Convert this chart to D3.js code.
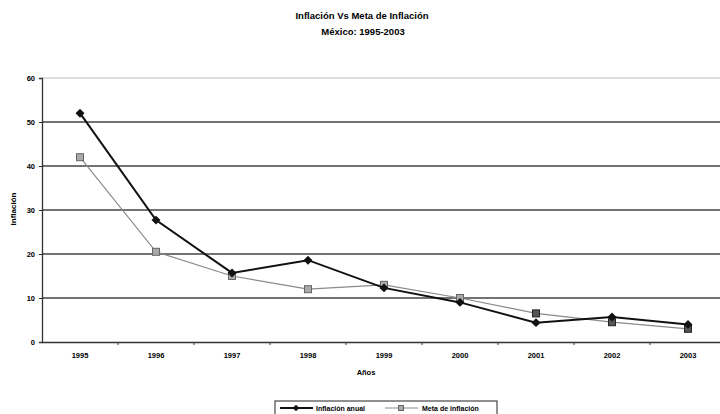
<!DOCTYPE html>
<html>
<head>
<meta charset="utf-8">
<script src="https://cdn.jsdelivr.net/npm/d3@7"></script>
<style>
  html, body { margin: 0; padding: 0; background: #fff; }
  svg { display: block; font-family: "Liberation Sans", Arial, sans-serif; }
</style>
</head>
<body>
<div id="chart"></div>
<script>
// Annual inflation in Mexico versus the central bank's inflation target
const years = ["1995", "1996", "1997", "1998", "1999", "2000", "2001", "2002", "2003"];
const inflacionAnual = [52.0, 27.7, 15.7, 18.6, 12.3, 9.0, 4.4, 5.7, 4.0];
const metaInflacion = [42.0, 20.5, 15.0, 12.0, 13.0, 10.0, 6.5, 4.5, 3.0];
const yTicks = [0, 10, 20, 30, 40, 50, 60];

const W = 720, H = 414;
const FONT = "Liberation Sans, Arial, sans-serif";
const svg = d3.select("#chart").append("svg").attr("width", W).attr("height", H);

const x = d3.scaleBand().domain(years).range([42, 726]);
const y = d3.scaleLinear().domain([0, 60]).range([342, 78]);
const cx = d => x(d) + x.bandwidth() / 2;

// Titles
svg.append("text").attr("x", 362).attr("y", 19).attr("text-anchor", "middle")
  .attr("font-size", 9.5).attr("font-weight", "bold").attr("fill", "#000")
  .text("Inflación Vs Meta de Inflación");
svg.append("text").attr("x", 363).attr("y", 35).attr("text-anchor", "middle")
  .attr("font-size", 9.5).attr("font-weight", "bold").attr("fill", "#000")
  .text("México: 1995-2003");

// Horizontal gridlines
svg.append("g").selectAll("line").data(yTicks.filter(t => t > 0)).join("line")
  .attr("x1", 42).attr("x2", W)
  .attr("y1", d => y(d)).attr("y2", d => y(d))
  .attr("stroke", d => d === 60 ? "#bbb" : "#444")
  .attr("stroke-width", d => d === 60 ? 1 : 1.3);

// Y axis
const yAxis = d3.axisLeft(y).tickValues(yTicks).tickSize(3).tickPadding(4);
const gy = svg.append("g").attr("transform", "translate(42,0)").call(yAxis);
gy.select(".domain").attr("stroke", "#333").attr("stroke-width", 1.3);
gy.selectAll(".tick line").attr("stroke", "#333");
gy.selectAll(".tick text").attr("font-size", 7.5).attr("font-weight", "bold")
  .attr("fill", "#000").attr("font-family", FONT);

// X axis with ticks on category boundaries
const xAxis = d3.axisBottom(x).tickSize(0).tickPadding(11);
const gx = svg.append("g").attr("transform", "translate(0,342)").call(xAxis);
gx.select(".domain").attr("stroke", "#333").attr("stroke-width", 1.3);
gx.selectAll(".tick text").attr("font-size", 7.5).attr("font-weight", "bold")
  .attr("fill", "#000").attr("font-family", FONT);
gx.append("g").selectAll("line").data(years.slice(1)).join("line")
  .attr("x1", d => x(d)).attr("x2", d => x(d))
  .attr("y1", 0).attr("y2", 3).attr("stroke", "#333");

// Axis titles
svg.append("text").attr("x", 366).attr("y", 375).attr("text-anchor", "middle")
  .attr("font-size", 7.5).attr("font-weight", "bold").attr("fill", "#000").text("Años");
svg.append("text").attr("transform", "translate(16,209) rotate(-90)")
  .attr("text-anchor", "middle").attr("font-size", 8).attr("font-weight", "bold")
  .attr("fill", "#000").text("Inflación");

// Lines
const line = d3.line().x(d => cx(d.year)).y(d => y(d.v));
const metaData = years.map((yr, i) => ({ year: yr, v: metaInflacion[i] }));
const anualData = years.map((yr, i) => ({ year: yr, v: inflacionAnual[i] }));

svg.append("path").datum(metaData).attr("d", line)
  .attr("fill", "none").attr("stroke", "#8a8a8a").attr("stroke-width", 1.2);
svg.append("g").selectAll("rect").data(metaData).join("rect")
  .attr("x", d => cx(d.year) - 3.5).attr("y", d => y(d.v) - 3.5)
  .attr("width", 7).attr("height", 7)
  .attr("fill", (d, i) => i >= 6 ? "#555" : "#aaa")
  .attr("stroke", (d, i) => i >= 6 ? "#222" : "#666").attr("stroke-width", 1);

svg.append("path").datum(anualData).attr("d", line)
  .attr("fill", "none").attr("stroke", "#111").attr("stroke-width", 2);
// Diamond marker: a square turned 45 degrees
const diamond = d3.symbol().type(d3.symbolSquare).size(40);
svg.append("g").selectAll("path").data(anualData).join("path")
  .attr("transform", d => `translate(${cx(d.year)},${y(d.v)}) rotate(45)`)
  .attr("d", diamond).attr("fill", "#111");

// Legend
const lg = svg.append("g");
lg.append("rect").attr("x", 275).attr("y", 401).attr("width", 222).attr("height", 16)
  .attr("fill", "#fff").attr("stroke", "#222").attr("stroke-width", 1);
lg.append("line").attr("x1", 280).attr("x2", 313).attr("y1", 408).attr("y2", 408)
  .attr("stroke", "#111").attr("stroke-width", 2);
lg.append("path").attr("transform", "translate(296,408) rotate(45)")
  .attr("d", d3.symbol().type(d3.symbolSquare).size(22)).attr("fill", "#111");
lg.append("text").attr("x", 316).attr("y", 410.5).attr("font-size", 7)
  .attr("font-weight", "bold").attr("fill", "#000").text("Inflación anual");
lg.append("line").attr("x1", 385).attr("x2", 418).attr("y1", 408).attr("y2", 408)
  .attr("stroke", "#8a8a8a").attr("stroke-width", 1.2);
lg.append("rect").attr("x", 398.5).attr("y", 405.5).attr("width", 5).attr("height", 5)
  .attr("fill", "#aaa").attr("stroke", "#666");
lg.append("text").attr("x", 422).attr("y", 410.5).attr("font-size", 7)
  .attr("font-weight", "bold").attr("fill", "#000").text("Meta de inflación");
</script>
</body>
</html>
